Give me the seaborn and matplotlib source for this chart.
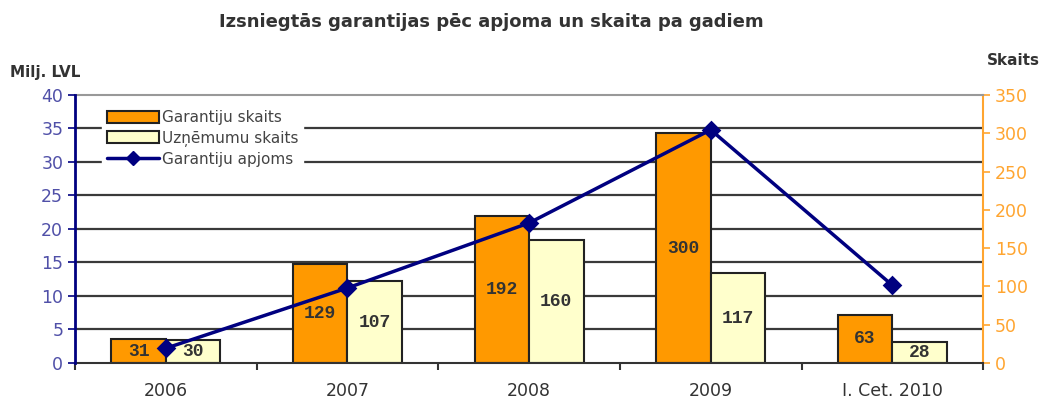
import pandas as pd
import numpy as np
import matplotlib.pyplot as plt
import seaborn as sns
from matplotlib.patches import Patch
from matplotlib.lines import Line2D

# dati
periodi = ["2006", "2007", "2008", "2009", "I. Cet. 2010"]
garantiju_skaits = [31, 129, 192, 300, 63]
uznemumu_skaits = [30, 107, 160, 117, 28]
garantiju_apjoms = [2.2, 11.2, 20.9, 34.8, 11.6]

nosaukumi = ["Garantiju skaits", "Uzņēmumu skaits", "Garantiju apjoms"]
krasas = ["#FF9900", "#FFFFCC"]
zila = "#000080"
oranza = "#FFA530"

df = pd.DataFrame({
      "periods": periodi * 2,
      "skaits": garantiju_skaits + uznemumu_skaits,
      "veids": [nosaukumi[0]] * len(periodi) + [nosaukumi[1]] * len(periodi),
})

sns.set_style("white")
plt.rcParams["font.family"] = ["DejaVu Sans"]

fig = plt.figure(figsize=(10.45, 4.04), dpi=100)
ax = fig.add_axes([0.0718, 0.1015, 0.869, 0.6634])
ax2 = ax.twinx()

# stabiņi (labā ass)
sns.barplot(
      data=df, x="periods", y="skaits", hue="veids",
      palette=krasas, saturation=1, width=0.6, gap=0,
      edgecolor="#222222", linewidth=1.5,
      legend=False, ax=ax, zorder=2,
)
for c in ax.containers:
      ax.bar_label(c, label_type="center", fontsize=13, fontweight="bold",
                   color="#333333", family="Liberation Mono")

ax.set_ylim(0, 350)
ax.set_xlim(-0.5, len(periodi) - 0.5)
ax.set_yticks(np.arange(0, 351, 50))
ax.set_yticks(np.arange(43.75, 350, 43.75), minor=True)
ax.grid(which="minor", axis="y", color="#3a3a3a", lw=1.6, zorder=0)
ax.grid(which="major", axis="y", visible=False)
ax.set_axisbelow(True)
ax.yaxis.tick_right()
ax.tick_params(axis="y", which="major", colors=oranza, labelsize=12.5,
               length=5, width=1.2, direction="out", right=True, left=False)
ax.tick_params(axis="y", which="minor", length=0)
ax.set_xlabel("")
ax.set_ylabel("")
ax.set_xticks(np.arange(-0.5, len(periodi), 1), minor=True)
ax.tick_params(axis="x", which="major", length=0, labelsize=12.5,
               labelcolor="#333333", pad=14)
ax.tick_params(axis="x", which="minor", length=5, width=1.5,
               color="#333333", direction="out", bottom=True)
ax.spines["right"].set_color(oranza)
ax.spines["right"].set_linewidth(1.5)
ax.spines["left"].set_visible(False)
ax.spines["top"].set_color("#999999")
ax.spines["top"].set_linewidth(1.5)
ax.spines["bottom"].set_color("#333333")
ax.spines["bottom"].set_linewidth(1.5)

# līnija (kreisā ass)
sns.pointplot(
      x=periodi, y=garantiju_apjoms, color=zila, markers="D",
      markersize=8, linewidth=2.5, ax=ax2,
)
ax2.set_ylim(0, 40)
ax2.set_xlim(-0.5, len(periodi) - 0.5)
ax2.set_yticks(np.arange(0, 41, 5))
ax2.yaxis.tick_left()
ax2.tick_params(axis="y", colors=zila, labelcolor="#5050A8", labelsize=12.5,
                length=5, width=1.2, direction="out", left=True, right=False)
ax2.set_ylabel("")
ax2.spines["left"].set_color(zila)
ax2.spines["left"].set_linewidth(2)
for s in ["right", "top", "bottom"]:
      ax2.spines[s].set_visible(False)

# leģenda
roktura = [
      Patch(facecolor=krasas[0], edgecolor="#222222", lw=1.5),
      Patch(facecolor=krasas[1], edgecolor="#222222", lw=1.5),
      Line2D([], [], color=zila, lw=2.5, marker="D", markersize=7),
]
leg = ax2.legend(roktura, nosaukumi, loc="upper left", bbox_to_anchor=(0.03, 0.96),
                 frameon=True, fancybox=False, edgecolor="white", framealpha=1,
                 fontsize=11, labelcolor="#444444", handlelength=3.4,
                 handleheight=0.8, labelspacing=0.35, borderpad=0.3,
                 handletextpad=0.2, borderaxespad=0)
leg.set_zorder(10)

fig.text(0.47, 0.945, "Izsniegtās garantijas pēc apjoma un skaita pa gadiem",
         ha="center", va="center", fontsize=13, fontweight="bold", color="#333333")
fig.text(0.01, 0.82, "Milj. LVL", ha="left", va="center", fontsize=11,
         fontweight="bold", color="#333333")
fig.text(0.995, 0.85, "Skaits", ha="right", va="center", fontsize=11,
         fontweight="bold", color="#333333")

fig.savefig("out.png", dpi=100)
